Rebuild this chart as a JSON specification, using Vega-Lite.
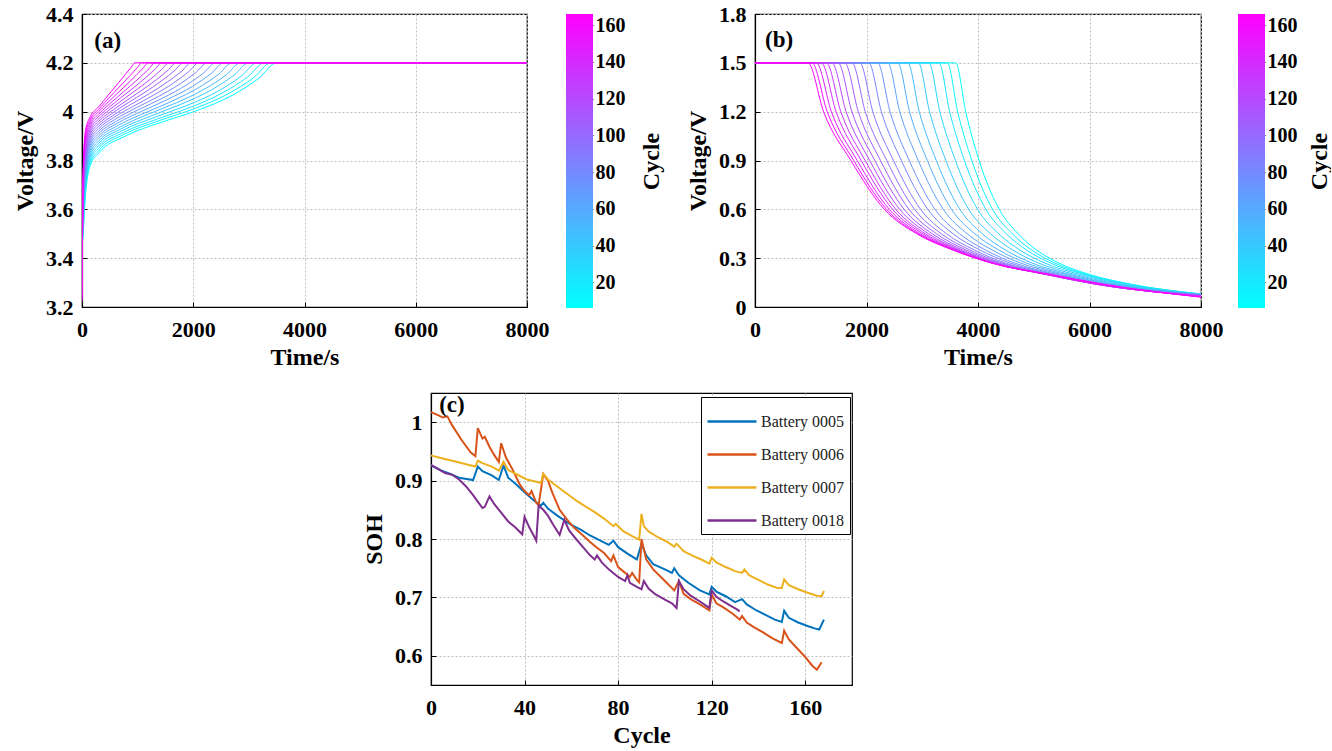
{
"$schema": "https://vega.github.io/schema/vega-lite/v6.json",
"background": "white",
"padding": {"left": 12, "top": 2, "right": 0, "bottom": 0},
"config": {
 "font": "Liberation Serif",
 "view": {"stroke": "black", "strokeWidth": 1.2},
 "axis": {"labelFont": "Liberation Serif", "labelFontSize": 22, "labelFontWeight": "bold", "labelColor": "black", "titleFont": "Liberation Serif", "titleFontSize": 24, "titleFontWeight": "bold", "titleColor": "black", "domainColor": "black", "domainWidth": 1.2, "tickColor": "black", "tickSize": -5, "grid": true, "gridColor": "#bdbdbd", "gridDash": [2, 2], "gridWidth": 1, "labelFlush": false, "labelOverlap": false},
 "axisX": {"titlePadding": 5, "labelPadding": 17},
 "axisY": {"titlePadding": 8, "labelPadding": 14}
},
"datasets": {
 "ca": [
{"c":6,"t":0,"v":3.45},{"c":6,"t":20,"v":3.5},{"c":6,"t":60,"v":3.65},{"c":6,"t":150,"v":3.78},{"c":6,"t":300,"v":3.83},{"c":6,"t":780,"v":3.9},{"c":6,"t":1420,"v":3.956},{"c":6,"t":2060,"v":4.004},{"c":6,"t":2700,"v":4.067},{"c":6,"t":3180,"v":4.137},{"c":6,"t":3500,"v":4.2},{"c":6,"t":8000,"v":4.2},
{"c":14,"t":0,"v":3.438},{"c":14,"t":20,"v":3.513},{"c":14,"t":60,"v":3.664},{"c":14,"t":150,"v":3.791},{"c":14,"t":300,"v":3.84},{"c":14,"t":765,"v":3.908},{"c":14,"t":1385,"v":3.963},{"c":14,"t":2005,"v":4.011},{"c":14,"t":2625,"v":4.073},{"c":14,"t":3090,"v":4.14},{"c":14,"t":3400,"v":4.2},{"c":14,"t":8000,"v":4.2},
{"c":23,"t":0,"v":3.426},{"c":23,"t":20,"v":3.526},{"c":23,"t":60,"v":3.678},{"c":23,"t":150,"v":3.801},{"c":23,"t":300,"v":3.85},{"c":23,"t":747,"v":3.915},{"c":23,"t":1343,"v":3.969},{"c":23,"t":1939,"v":4.017},{"c":23,"t":2535,"v":4.078},{"c":23,"t":2982,"v":4.143},{"c":23,"t":3280,"v":4.2},{"c":23,"t":8000,"v":4.2},
{"c":31,"t":0,"v":3.414},{"c":31,"t":20,"v":3.54},{"c":31,"t":60,"v":3.693},{"c":31,"t":150,"v":3.812},{"c":31,"t":300,"v":3.86},{"c":31,"t":728,"v":3.923},{"c":31,"t":1298,"v":3.976},{"c":31,"t":1868,"v":4.024},{"c":31,"t":2438,"v":4.083},{"c":31,"t":2865,"v":4.146},{"c":31,"t":3150,"v":4.2},{"c":31,"t":8000,"v":4.2},
{"c":40,"t":0,"v":3.401},{"c":40,"t":20,"v":3.553},{"c":40,"t":60,"v":3.707},{"c":40,"t":150,"v":3.822},{"c":40,"t":300,"v":3.87},{"c":40,"t":705,"v":3.93},{"c":40,"t":1245,"v":3.983},{"c":40,"t":1785,"v":4.031},{"c":40,"t":2325,"v":4.089},{"c":40,"t":2730,"v":4.149},{"c":40,"t":3000,"v":4.2},{"c":40,"t":8000,"v":4.2},
{"c":48,"t":0,"v":3.39},{"c":48,"t":20,"v":3.566},{"c":48,"t":60,"v":3.721},{"c":48,"t":150,"v":3.833},{"c":48,"t":300,"v":3.88},{"c":48,"t":683,"v":3.937},{"c":48,"t":1193,"v":3.99},{"c":48,"t":1703,"v":4.037},{"c":48,"t":2213,"v":4.094},{"c":48,"t":2595,"v":4.151},{"c":48,"t":2850,"v":4.2},{"c":48,"t":8000,"v":4.2},
{"c":57,"t":0,"v":3.377},{"c":57,"t":20,"v":3.579},{"c":57,"t":60,"v":3.735},{"c":57,"t":150,"v":3.843},{"c":57,"t":300,"v":3.89},{"c":57,"t":660,"v":3.945},{"c":57,"t":1140,"v":3.996},{"c":57,"t":1620,"v":4.043},{"c":57,"t":2100,"v":4.099},{"c":57,"t":2460,"v":4.154},{"c":57,"t":2700,"v":4.2},{"c":57,"t":8000,"v":4.2},
{"c":65,"t":0,"v":3.365},{"c":65,"t":20,"v":3.592},{"c":65,"t":60,"v":3.749},{"c":65,"t":150,"v":3.854},{"c":65,"t":300,"v":3.9},{"c":65,"t":638,"v":3.953},{"c":65,"t":1088,"v":4.003},{"c":65,"t":1538,"v":4.05},{"c":65,"t":1988,"v":4.104},{"c":65,"t":2325,"v":4.157},{"c":65,"t":2550,"v":4.2},{"c":65,"t":8000,"v":4.2},
{"c":73,"t":0,"v":3.353},{"c":73,"t":20,"v":3.605},{"c":73,"t":60,"v":3.764},{"c":73,"t":150,"v":3.864},{"c":73,"t":300,"v":3.91},{"c":73,"t":615,"v":3.96},{"c":73,"t":1035,"v":4.01},{"c":73,"t":1455,"v":4.056},{"c":73,"t":1875,"v":4.109},{"c":73,"t":2190,"v":4.159},{"c":73,"t":2400,"v":4.2},{"c":73,"t":8000,"v":4.2},
{"c":82,"t":0,"v":3.341},{"c":82,"t":20,"v":3.619},{"c":82,"t":60,"v":3.778},{"c":82,"t":150,"v":3.875},{"c":82,"t":300,"v":3.92},{"c":82,"t":593,"v":3.968},{"c":82,"t":983,"v":4.017},{"c":82,"t":1373,"v":4.062},{"c":82,"t":1763,"v":4.114},{"c":82,"t":2055,"v":4.162},{"c":82,"t":2250,"v":4.2},{"c":82,"t":8000,"v":4.2},
{"c":90,"t":0,"v":3.329},{"c":90,"t":20,"v":3.632},{"c":90,"t":60,"v":3.792},{"c":90,"t":150,"v":3.885},{"c":90,"t":300,"v":3.93},{"c":90,"t":570,"v":3.976},{"c":90,"t":930,"v":4.023},{"c":90,"t":1290,"v":4.068},{"c":90,"t":1650,"v":4.118},{"c":90,"t":1920,"v":4.164},{"c":90,"t":2100,"v":4.2},{"c":90,"t":8000,"v":4.2},
{"c":99,"t":0,"v":3.317},{"c":99,"t":20,"v":3.645},{"c":99,"t":60,"v":3.806},{"c":99,"t":150,"v":3.896},{"c":99,"t":300,"v":3.94},{"c":99,"t":549,"v":3.983},{"c":99,"t":881,"v":4.03},{"c":99,"t":1213,"v":4.074},{"c":99,"t":1545,"v":4.123},{"c":99,"t":1794,"v":4.166},{"c":99,"t":1960,"v":4.2},{"c":99,"t":8000,"v":4.2},
{"c":107,"t":0,"v":3.305},{"c":107,"t":20,"v":3.658},{"c":107,"t":60,"v":3.821},{"c":107,"t":150,"v":3.906},{"c":107,"t":300,"v":3.95},{"c":107,"t":528,"v":3.991},{"c":107,"t":832,"v":4.037},{"c":107,"t":1136,"v":4.08},{"c":107,"t":1440,"v":4.128},{"c":107,"t":1668,"v":4.169},{"c":107,"t":1820,"v":4.2},{"c":107,"t":8000,"v":4.2},
{"c":115,"t":0,"v":3.293},{"c":115,"t":20,"v":3.671},{"c":115,"t":60,"v":3.835},{"c":115,"t":150,"v":3.917},{"c":115,"t":300,"v":3.96},{"c":115,"t":509,"v":3.999},{"c":115,"t":787,"v":4.043},{"c":115,"t":1065,"v":4.086},{"c":115,"t":1343,"v":4.132},{"c":115,"t":1551,"v":4.171},{"c":115,"t":1690,"v":4.2},{"c":115,"t":8000,"v":4.2},
{"c":124,"t":0,"v":3.28},{"c":124,"t":20,"v":3.684},{"c":124,"t":60,"v":3.849},{"c":124,"t":150,"v":3.927},{"c":124,"t":300,"v":3.97},{"c":124,"t":489,"v":4.007},{"c":124,"t":741,"v":4.05},{"c":124,"t":993,"v":4.092},{"c":124,"t":1245,"v":4.136},{"c":124,"t":1434,"v":4.173},{"c":124,"t":1560,"v":4.2},{"c":124,"t":8000,"v":4.2},
{"c":132,"t":0,"v":3.269},{"c":132,"t":20,"v":3.697},{"c":132,"t":60,"v":3.863},{"c":132,"t":150,"v":3.938},{"c":132,"t":300,"v":3.98},{"c":132,"t":470,"v":4.015},{"c":132,"t":696,"v":4.057},{"c":132,"t":922,"v":4.097},{"c":132,"t":1148,"v":4.14},{"c":132,"t":1317,"v":4.175},{"c":132,"t":1430,"v":4.2},{"c":132,"t":8000,"v":4.2},
{"c":141,"t":0,"v":3.256},{"c":141,"t":20,"v":3.711},{"c":141,"t":60,"v":3.877},{"c":141,"t":150,"v":3.948},{"c":141,"t":300,"v":3.99},{"c":141,"t":452,"v":4.023},{"c":141,"t":654,"v":4.063},{"c":141,"t":856,"v":4.103},{"c":141,"t":1058,"v":4.144},{"c":141,"t":1209,"v":4.177},{"c":141,"t":1310,"v":4.2},{"c":141,"t":8000,"v":4.2},
{"c":149,"t":0,"v":3.244},{"c":149,"t":20,"v":3.724},{"c":149,"t":60,"v":3.892},{"c":149,"t":150,"v":3.959},{"c":149,"t":300,"v":4.0},{"c":149,"t":434,"v":4.031},{"c":149,"t":612,"v":4.07},{"c":149,"t":790,"v":4.108},{"c":149,"t":968,"v":4.148},{"c":149,"t":1101,"v":4.179},{"c":149,"t":1190,"v":4.2},{"c":149,"t":8000,"v":4.2},
{"c":157,"t":0,"v":3.232},{"c":157,"t":20,"v":3.737},{"c":157,"t":60,"v":3.906},{"c":157,"t":150,"v":3.969},{"c":157,"t":300,"v":4.01},{"c":157,"t":416,"v":4.039},{"c":157,"t":570,"v":4.077},{"c":157,"t":724,"v":4.114},{"c":157,"t":878,"v":4.151},{"c":157,"t":993,"v":4.18},{"c":157,"t":1070,"v":4.2},{"c":157,"t":8000,"v":4.2},
{"c":166,"t":0,"v":3.22},{"c":166,"t":20,"v":3.75},{"c":166,"t":60,"v":3.92},{"c":166,"t":150,"v":3.98},{"c":166,"t":300,"v":4.02},{"c":166,"t":398,"v":4.047},{"c":166,"t":528,"v":4.083},{"c":166,"t":658,"v":4.119},{"c":166,"t":788,"v":4.155},{"c":166,"t":885,"v":4.182},{"c":166,"t":950,"v":4.2},{"c":166,"t":8000,"v":4.2}
 ],
 "db": [
{"c":6,"t":0,"v":1.5},{"c":6,"t":3600,"v":1.5},{"c":6,"t":3780,"v":1.2},{"c":6,"t":4020,"v":0.9},{"c":6,"t":4380,"v":0.6},{"c":6,"t":4720,"v":0.45},{"c":6,"t":5050,"v":0.35},{"c":6,"t":5450,"v":0.27},{"c":6,"t":6000,"v":0.2},{"c":6,"t":6750,"v":0.14},{"c":6,"t":8000,"v":0.08},
{"c":14,"t":0,"v":1.5},{"c":14,"t":3450,"v":1.5},{"c":14,"t":3635,"v":1.2},{"c":14,"t":3889,"v":0.9},{"c":14,"t":4261,"v":0.6},{"c":14,"t":4614,"v":0.45},{"c":14,"t":4961,"v":0.35},{"c":14,"t":5377,"v":0.27},{"c":14,"t":5953,"v":0.2},{"c":14,"t":6714,"v":0.14},{"c":14,"t":8000,"v":0.08},
{"c":23,"t":0,"v":1.5},{"c":23,"t":3300,"v":1.5},{"c":23,"t":3491,"v":1.2},{"c":23,"t":3757,"v":0.9},{"c":23,"t":4142,"v":0.6},{"c":23,"t":4507,"v":0.45},{"c":23,"t":4871,"v":0.35},{"c":23,"t":5302,"v":0.27},{"c":23,"t":5905,"v":0.2},{"c":23,"t":6676,"v":0.14},{"c":23,"t":8000,"v":0.08},
{"c":31,"t":0,"v":1.5},{"c":31,"t":3120,"v":1.5},{"c":31,"t":3316,"v":1.2},{"c":31,"t":3595,"v":0.9},{"c":31,"t":3993,"v":0.6},{"c":31,"t":4371,"v":0.45},{"c":31,"t":4752,"v":0.35},{"c":31,"t":5199,"v":0.27},{"c":31,"t":5828,"v":0.2},{"c":31,"t":6610,"v":0.14},{"c":31,"t":8000,"v":0.078},
{"c":40,"t":0,"v":1.5},{"c":40,"t":2930,"v":1.5},{"c":40,"t":3131,"v":1.2},{"c":40,"t":3424,"v":0.9},{"c":40,"t":3834,"v":0.6},{"c":40,"t":4225,"v":0.45},{"c":40,"t":4623,"v":0.35},{"c":40,"t":5086,"v":0.27},{"c":40,"t":5741,"v":0.2},{"c":40,"t":6534,"v":0.14},{"c":40,"t":8000,"v":0.078},
{"c":48,"t":0,"v":1.5},{"c":48,"t":2740,"v":1.5},{"c":48,"t":2946,"v":1.2},{"c":48,"t":3252,"v":0.9},{"c":48,"t":3675,"v":0.6},{"c":48,"t":4078,"v":0.45},{"c":48,"t":4492,"v":0.35},{"c":48,"t":4971,"v":0.27},{"c":48,"t":5653,"v":0.2},{"c":48,"t":6455,"v":0.14},{"c":48,"t":8000,"v":0.077},
{"c":57,"t":0,"v":1.5},{"c":57,"t":2560,"v":1.5},{"c":57,"t":2772,"v":1.2},{"c":57,"t":3091,"v":0.9},{"c":57,"t":3526,"v":0.6},{"c":57,"t":3942,"v":0.45},{"c":57,"t":4373,"v":0.35},{"c":57,"t":4868,"v":0.27},{"c":57,"t":5576,"v":0.2},{"c":57,"t":6389,"v":0.14},{"c":57,"t":8000,"v":0.076},
{"c":65,"t":0,"v":1.5},{"c":65,"t":2380,"v":1.5},{"c":65,"t":2597,"v":1.2},{"c":65,"t":2929,"v":0.9},{"c":65,"t":3377,"v":0.6},{"c":65,"t":3805,"v":0.45},{"c":65,"t":4253,"v":0.35},{"c":65,"t":4764,"v":0.27},{"c":65,"t":5498,"v":0.2},{"c":65,"t":6321,"v":0.14},{"c":65,"t":8000,"v":0.075},
{"c":73,"t":0,"v":1.5},{"c":73,"t":2200,"v":1.5},{"c":73,"t":2422,"v":1.2},{"c":73,"t":2767,"v":0.9},{"c":73,"t":3228,"v":0.6},{"c":73,"t":3669,"v":0.45},{"c":73,"t":4134,"v":0.35},{"c":73,"t":4660,"v":0.27},{"c":73,"t":5421,"v":0.2},{"c":73,"t":6255,"v":0.14},{"c":73,"t":8000,"v":0.074},
{"c":82,"t":0,"v":1.5},{"c":82,"t":2040,"v":1.5},{"c":82,"t":2267,"v":1.2},{"c":82,"t":2626,"v":0.9},{"c":82,"t":3100,"v":0.6},{"c":82,"t":3553,"v":0.45},{"c":82,"t":4035,"v":0.35},{"c":82,"t":4577,"v":0.27},{"c":82,"t":5364,"v":0.2},{"c":82,"t":6209,"v":0.14},{"c":82,"t":8000,"v":0.073},
{"c":90,"t":0,"v":1.5},{"c":90,"t":1880,"v":1.5},{"c":90,"t":2113,"v":1.2},{"c":90,"t":2484,"v":0.9},{"c":90,"t":2970,"v":0.6},{"c":90,"t":3437,"v":0.45},{"c":90,"t":3935,"v":0.35},{"c":90,"t":4493,"v":0.27},{"c":90,"t":5306,"v":0.2},{"c":90,"t":6161,"v":0.14},{"c":90,"t":8000,"v":0.072},
{"c":99,"t":0,"v":1.5},{"c":99,"t":1740,"v":1.5},{"c":99,"t":1978,"v":1.2},{"c":99,"t":2363,"v":0.9},{"c":99,"t":2862,"v":0.6},{"c":99,"t":3341,"v":0.45},{"c":99,"t":3856,"v":0.35},{"c":99,"t":4430,"v":0.27},{"c":99,"t":5269,"v":0.2},{"c":99,"t":6135,"v":0.14},{"c":99,"t":8000,"v":0.071},
{"c":107,"t":0,"v":1.5},{"c":107,"t":1610,"v":1.5},{"c":107,"t":1853,"v":1.2},{"c":107,"t":2251,"v":0.9},{"c":107,"t":2763,"v":0.6},{"c":107,"t":3255,"v":0.45},{"c":107,"t":3787,"v":0.35},{"c":107,"t":4376,"v":0.27},{"c":107,"t":5242,"v":0.2},{"c":107,"t":6119,"v":0.14},{"c":107,"t":8000,"v":0.07},
{"c":115,"t":0,"v":1.5},{"c":115,"t":1490,"v":1.5},{"c":115,"t":1738,"v":1.2},{"c":115,"t":2149,"v":0.9},{"c":115,"t":2674,"v":0.6},{"c":115,"t":3178,"v":0.45},{"c":115,"t":3727,"v":0.35},{"c":115,"t":4332,"v":0.27},{"c":115,"t":5224,"v":0.2},{"c":115,"t":6111,"v":0.14},{"c":115,"t":8000,"v":0.068},
{"c":124,"t":0,"v":1.5},{"c":124,"t":1380,"v":1.5},{"c":124,"t":1634,"v":1.2},{"c":124,"t":2058,"v":0.9},{"c":124,"t":2595,"v":0.6},{"c":124,"t":3112,"v":0.45},{"c":124,"t":3678,"v":0.35},{"c":124,"t":4299,"v":0.27},{"c":124,"t":5217,"v":0.2},{"c":124,"t":6115,"v":0.14},{"c":124,"t":8000,"v":0.067},
{"c":132,"t":0,"v":1.5},{"c":132,"t":1280,"v":1.5},{"c":132,"t":1539,"v":1.2},{"c":132,"t":1976,"v":0.9},{"c":132,"t":2525,"v":0.6},{"c":132,"t":3055,"v":0.45},{"c":132,"t":3637,"v":0.35},{"c":132,"t":4274,"v":0.27},{"c":132,"t":5219,"v":0.2},{"c":132,"t":6126,"v":0.14},{"c":132,"t":8000,"v":0.066},
{"c":141,"t":0,"v":1.5},{"c":141,"t":1190,"v":1.5},{"c":141,"t":1454,"v":1.2},{"c":141,"t":1905,"v":0.9},{"c":141,"t":2467,"v":0.6},{"c":141,"t":3009,"v":0.45},{"c":141,"t":3608,"v":0.35},{"c":141,"t":4261,"v":0.27},{"c":141,"t":5232,"v":0.2},{"c":141,"t":6150,"v":0.14},{"c":141,"t":8000,"v":0.064},
{"c":149,"t":0,"v":1.5},{"c":149,"t":1100,"v":1.5},{"c":149,"t":1370,"v":1.2},{"c":149,"t":1833,"v":0.9},{"c":149,"t":2408,"v":0.6},{"c":149,"t":2963,"v":0.45},{"c":149,"t":3579,"v":0.35},{"c":149,"t":4248,"v":0.27},{"c":149,"t":5245,"v":0.2},{"c":149,"t":6174,"v":0.14},{"c":149,"t":8000,"v":0.063},
{"c":157,"t":0,"v":1.5},{"c":157,"t":1020,"v":1.5},{"c":157,"t":1295,"v":1.2},{"c":157,"t":1771,"v":0.9},{"c":157,"t":2359,"v":0.6},{"c":157,"t":2926,"v":0.45},{"c":157,"t":3559,"v":0.35},{"c":157,"t":4243,"v":0.27},{"c":157,"t":5267,"v":0.2},{"c":157,"t":6206,"v":0.14},{"c":157,"t":8000,"v":0.062},
{"c":166,"t":0,"v":1.5},{"c":166,"t":950,"v":1.5},{"c":166,"t":1230,"v":1.2},{"c":166,"t":1720,"v":0.9},{"c":166,"t":2320,"v":0.6},{"c":166,"t":2900,"v":0.45},{"c":166,"t":3550,"v":0.35},{"c":166,"t":4250,"v":0.27},{"c":166,"t":5300,"v":0.2},{"c":166,"t":6250,"v":0.14},{"c":166,"t":8000,"v":0.06}
 ],
 "soh": [
{"b":"0005","c":0,"s":0.926},{"b":"0005","c":4,"s":0.918},{"b":"0005","c":8,"s":0.912},{"b":"0005","c":12,"s":0.905},{"b":"0005","c":18,"s":0.901},{"b":"0005","c":20,"s":0.924},{"b":"0005","c":22,"s":0.916},{"b":"0005","c":26,"s":0.909},{"b":"0005","c":29,"s":0.901},{"b":"0005","c":31,"s":0.926},{"b":"0005","c":33,"s":0.905},{"b":"0005","c":36,"s":0.895},{"b":"0005","c":40,"s":0.88},{"b":"0005","c":44,"s":0.866},{"b":"0005","c":47,"s":0.857},{"b":"0005","c":48,"s":0.862},{"b":"0005","c":50,"s":0.852},{"b":"0005","c":54,"s":0.84},{"b":"0005","c":60,"s":0.824},{"b":"0005","c":64,"s":0.816},{"b":"0005","c":68,"s":0.806},{"b":"0005","c":72,"s":0.798},{"b":"0005","c":76,"s":0.79},{"b":"0005","c":78,"s":0.797},{"b":"0005","c":80,"s":0.786},{"b":"0005","c":84,"s":0.775},{"b":"0005","c":88,"s":0.765},{"b":"0005","c":90,"s":0.792},{"b":"0005","c":92,"s":0.772},{"b":"0005","c":95,"s":0.757},{"b":"0005","c":100,"s":0.748},{"b":"0005","c":103,"s":0.742},{"b":"0005","c":104,"s":0.75},{"b":"0005","c":106,"s":0.738},{"b":"0005","c":110,"s":0.725},{"b":"0005","c":115,"s":0.712},{"b":"0005","c":119,"s":0.705},{"b":"0005","c":120,"s":0.718},{"b":"0005","c":122,"s":0.71},{"b":"0005","c":126,"s":0.702},{"b":"0005","c":130,"s":0.692},{"b":"0005","c":133,"s":0.697},{"b":"0005","c":135,"s":0.688},{"b":"0005","c":139,"s":0.678},{"b":"0005","c":143,"s":0.67},{"b":"0005","c":147,"s":0.662},{"b":"0005","c":150,"s":0.658},{"b":"0005","c":151,"s":0.677},{"b":"0005","c":153,"s":0.665},{"b":"0005","c":157,"s":0.657},{"b":"0005","c":161,"s":0.651},{"b":"0005","c":164,"s":0.647},{"b":"0005","c":166,"s":0.645},{"b":"0005","c":168,"s":0.662},
{"b":"0006","c":0,"s":1.017},{"b":"0006","c":3,"s":1.012},{"b":"0006","c":5,"s":1.008},{"b":"0006","c":7,"s":1.01},{"b":"0006","c":9,"s":0.995},{"b":"0006","c":13,"s":0.97},{"b":"0006","c":17,"s":0.948},{"b":"0006","c":19,"s":0.942},{"b":"0006","c":20,"s":0.99},{"b":"0006","c":22,"s":0.972},{"b":"0006","c":23,"s":0.975},{"b":"0006","c":25,"s":0.958},{"b":"0006","c":27,"s":0.944},{"b":"0006","c":29,"s":0.932},{"b":"0006","c":30,"s":0.964},{"b":"0006","c":32,"s":0.94},{"b":"0006","c":35,"s":0.918},{"b":"0006","c":38,"s":0.893},{"b":"0006","c":40,"s":0.882},{"b":"0006","c":42,"s":0.875},{"b":"0006","c":43,"s":0.882},{"b":"0006","c":45,"s":0.862},{"b":"0006","c":46,"s":0.858},{"b":"0006","c":48,"s":0.911},{"b":"0006","c":50,"s":0.9},{"b":"0006","c":52,"s":0.878},{"b":"0006","c":55,"s":0.85},{"b":"0006","c":58,"s":0.834},{"b":"0006","c":61,"s":0.82},{"b":"0006","c":65,"s":0.806},{"b":"0006","c":68,"s":0.795},{"b":"0006","c":71,"s":0.785},{"b":"0006","c":74,"s":0.776},{"b":"0006","c":77,"s":0.762},{"b":"0006","c":78,"s":0.772},{"b":"0006","c":80,"s":0.752},{"b":"0006","c":83,"s":0.742},{"b":"0006","c":85,"s":0.735},{"b":"0006","c":86,"s":0.742},{"b":"0006","c":88,"s":0.73},{"b":"0006","c":89,"s":0.726},{"b":"0006","c":90,"s":0.8},{"b":"0006","c":92,"s":0.765},{"b":"0006","c":95,"s":0.748},{"b":"0006","c":100,"s":0.728},{"b":"0006","c":104,"s":0.712},{"b":"0006","c":106,"s":0.728},{"b":"0006","c":108,"s":0.706},{"b":"0006","c":111,"s":0.697},{"b":"0006","c":115,"s":0.688},{"b":"0006","c":119,"s":0.678},{"b":"0006","c":120,"s":0.705},{"b":"0006","c":122,"s":0.69},{"b":"0006","c":125,"s":0.683},{"b":"0006","c":129,"s":0.672},{"b":"0006","c":132,"s":0.662},{"b":"0006","c":133,"s":0.668},{"b":"0006","c":135,"s":0.657},{"b":"0006","c":138,"s":0.649},{"b":"0006","c":142,"s":0.64},{"b":"0006","c":146,"s":0.63},{"b":"0006","c":150,"s":0.622},{"b":"0006","c":151,"s":0.643},{"b":"0006","c":153,"s":0.628},{"b":"0006","c":156,"s":0.615},{"b":"0006","c":160,"s":0.598},{"b":"0006","c":163,"s":0.583},{"b":"0006","c":165,"s":0.576},{"b":"0006","c":167,"s":0.589},
{"b":"0007","c":0,"s":0.943},{"b":"0007","c":5,"s":0.938},{"b":"0007","c":10,"s":0.933},{"b":"0007","c":15,"s":0.928},{"b":"0007","c":19,"s":0.924},{"b":"0007","c":20,"s":0.934},{"b":"0007","c":22,"s":0.93},{"b":"0007","c":26,"s":0.924},{"b":"0007","c":29,"s":0.917},{"b":"0007","c":31,"s":0.932},{"b":"0007","c":33,"s":0.918},{"b":"0007","c":37,"s":0.91},{"b":"0007","c":41,"s":0.902},{"b":"0007","c":45,"s":0.898},{"b":"0007","c":47,"s":0.896},{"b":"0007","c":48,"s":0.912},{"b":"0007","c":50,"s":0.902},{"b":"0007","c":54,"s":0.89},{"b":"0007","c":58,"s":0.878},{"b":"0007","c":62,"s":0.866},{"b":"0007","c":66,"s":0.856},{"b":"0007","c":70,"s":0.846},{"b":"0007","c":74,"s":0.835},{"b":"0007","c":78,"s":0.822},{"b":"0007","c":79,"s":0.826},{"b":"0007","c":82,"s":0.814},{"b":"0007","c":86,"s":0.805},{"b":"0007","c":89,"s":0.799},{"b":"0007","c":90,"s":0.843},{"b":"0007","c":91,"s":0.822},{"b":"0007","c":93,"s":0.813},{"b":"0007","c":97,"s":0.803},{"b":"0007","c":101,"s":0.795},{"b":"0007","c":104,"s":0.787},{"b":"0007","c":105,"s":0.792},{"b":"0007","c":108,"s":0.779},{"b":"0007","c":112,"s":0.771},{"b":"0007","c":116,"s":0.764},{"b":"0007","c":119,"s":0.758},{"b":"0007","c":120,"s":0.768},{"b":"0007","c":122,"s":0.76},{"b":"0007","c":126,"s":0.752},{"b":"0007","c":130,"s":0.745},{"b":"0007","c":133,"s":0.742},{"b":"0007","c":134,"s":0.748},{"b":"0007","c":136,"s":0.738},{"b":"0007","c":140,"s":0.73},{"b":"0007","c":144,"s":0.722},{"b":"0007","c":148,"s":0.716},{"b":"0007","c":150,"s":0.716},{"b":"0007","c":151,"s":0.731},{"b":"0007","c":153,"s":0.721},{"b":"0007","c":157,"s":0.714},{"b":"0007","c":161,"s":0.708},{"b":"0007","c":165,"s":0.703},{"b":"0007","c":167,"s":0.702},{"b":"0007","c":168,"s":0.711},
{"b":"0018","c":0,"s":0.927},{"b":"0018","c":3,"s":0.92},{"b":"0018","c":6,"s":0.913},{"b":"0018","c":9,"s":0.91},{"b":"0018","c":12,"s":0.902},{"b":"0018","c":15,"s":0.89},{"b":"0018","c":18,"s":0.875},{"b":"0018","c":20,"s":0.864},{"b":"0018","c":22,"s":0.853},{"b":"0018","c":23,"s":0.855},{"b":"0018","c":25,"s":0.873},{"b":"0018","c":27,"s":0.86},{"b":"0018","c":30,"s":0.845},{"b":"0018","c":33,"s":0.83},{"b":"0018","c":36,"s":0.82},{"b":"0018","c":39,"s":0.808},{"b":"0018","c":40,"s":0.838},{"b":"0018","c":42,"s":0.82},{"b":"0018","c":44,"s":0.805},{"b":"0018","c":45,"s":0.797},{"b":"0018","c":46,"s":0.857},{"b":"0018","c":48,"s":0.85},{"b":"0018","c":50,"s":0.84},{"b":"0018","c":52,"s":0.826},{"b":"0018","c":55,"s":0.807},{"b":"0018","c":57,"s":0.833},{"b":"0018","c":59,"s":0.815},{"b":"0018","c":62,"s":0.8},{"b":"0018","c":65,"s":0.786},{"b":"0018","c":68,"s":0.772},{"b":"0018","c":70,"s":0.765},{"b":"0018","c":71,"s":0.772},{"b":"0018","c":73,"s":0.76},{"b":"0018","c":76,"s":0.748},{"b":"0018","c":80,"s":0.735},{"b":"0018","c":83,"s":0.728},{"b":"0018","c":84,"s":0.738},{"b":"0018","c":85,"s":0.725},{"b":"0018","c":88,"s":0.718},{"b":"0018","c":90,"s":0.714},{"b":"0018","c":91,"s":0.728},{"b":"0018","c":93,"s":0.715},{"b":"0018","c":96,"s":0.705},{"b":"0018","c":100,"s":0.696},{"b":"0018","c":103,"s":0.69},{"b":"0018","c":105,"s":0.682},{"b":"0018","c":106,"s":0.728},{"b":"0018","c":108,"s":0.714},{"b":"0018","c":111,"s":0.703},{"b":"0018","c":115,"s":0.693},{"b":"0018","c":119,"s":0.682},{"b":"0018","c":120,"s":0.712},{"b":"0018","c":122,"s":0.701},{"b":"0018","c":125,"s":0.693},{"b":"0018","c":128,"s":0.686},{"b":"0018","c":131,"s":0.679},{"b":"0018","c":132,"s":0.676}
 ]
},
"spacing": 22,
"resolve": {"scale": {"color": "independent"}, "legend": {"color": "independent"}},
"vconcat": [
 {"spacing": 22, "align": "none", "hconcat": [
  {"spacing": 16, "align": "none", "hconcat": [
   {"width": 445, "height": 293,
    "layer": [
     {"data": {"name": "ca"},
      "mark": {"type": "line", "strokeWidth": 1, "interpolate": "monotone", "clip": true},
      "encoding": {
       "x": {"field": "t", "type": "quantitative", "scale": {"domain": [0, 8000]}, "axis": {"values": [0, 2000, 4000, 6000, 8000], "format": "d", "title": "Time/s"}},
       "y": {"field": "v", "type": "quantitative", "scale": {"domain": [3.2, 4.4]}, "axis": {"values": [3.2, 3.4, 3.6, 3.8, 4, 4.2, 4.4], "format": "~g", "title": "Voltage/V"}},
       "color": {"field": "c", "type": "quantitative", "scale": {"domain": [6, 166], "range": ["#00ffff", "#ff00ff"], "interpolate": "rgb"}, "legend": null},
       "detail": {"field": "c", "type": "nominal"}
      }},
     {"data": {"values": [{"t": 220, "v": 4.29, "s": "(a)"}]},
      "mark": {"type": "text", "align": "left", "baseline": "middle", "font": "Liberation Serif", "fontWeight": "bold", "fontSize": 23, "color": "black"},
      "encoding": {"x": {"field": "t", "type": "quantitative"}, "y": {"field": "v", "type": "quantitative"}, "text": {"field": "s"}}}
    ]},
   {"width": 27, "height": 294, "view": {"stroke": null},
    "data": {"values": [{"lo": 6, "hi": 166}]},
    "mark": {"type": "rect", "color": {"gradient": "linear", "x1": 0, "y1": 1, "x2": 0, "y2": 0, "stops": [{"offset": 0, "color": "#00ffff"}, {"offset": 1, "color": "#ff00ff"}]}},
    "encoding": {
     "y": {"field": "lo", "type": "quantitative", "scale": {"domain": [6, 166]}, "axis": {"orient": "right", "values": [20, 40, 60, 80, 100, 120, 140, 160], "title": "Cycle", "titleAngle": -90, "titleBaseline": "top", "titlePadding": 14, "grid": false, "domain": false, "tickSize": -4, "labelPadding": 6, "labelFontSize": 20}},
     "y2": {"field": "hi"}
    }}
  ]},
  {"spacing": 14, "align": "none", "hconcat": [
   {"width": 446, "height": 293,
    "layer": [
     {"data": {"name": "db"},
      "mark": {"type": "line", "strokeWidth": 1, "interpolate": "monotone", "clip": true},
      "encoding": {
       "x": {"field": "t", "type": "quantitative", "scale": {"domain": [0, 8000]}, "axis": {"values": [0, 2000, 4000, 6000, 8000], "format": "d", "title": "Time/s"}},
       "y": {"field": "v", "type": "quantitative", "scale": {"domain": [0, 1.8]}, "axis": {"values": [0, 0.3, 0.6, 0.9, 1.2, 1.5, 1.8], "format": "~g", "title": "Voltage/V"}},
       "color": {"field": "c", "type": "quantitative", "scale": {"domain": [6, 166], "range": ["#00ffff", "#ff00ff"], "interpolate": "rgb"}, "legend": null},
       "detail": {"field": "c", "type": "nominal"}
      }},
     {"data": {"values": [{"t": 180, "v": 1.64, "s": "(b)"}]},
      "mark": {"type": "text", "align": "left", "baseline": "middle", "font": "Liberation Serif", "fontWeight": "bold", "fontSize": 23, "color": "black"},
      "encoding": {"x": {"field": "t", "type": "quantitative"}, "y": {"field": "v", "type": "quantitative"}, "text": {"field": "s"}}}
    ]},
   {"width": 27, "height": 294, "view": {"stroke": null},
    "data": {"values": [{"lo": 6, "hi": 166}]},
    "mark": {"type": "rect", "color": {"gradient": "linear", "x1": 0, "y1": 1, "x2": 0, "y2": 0, "stops": [{"offset": 0, "color": "#00ffff"}, {"offset": 1, "color": "#ff00ff"}]}},
    "encoding": {
     "y": {"field": "lo", "type": "quantitative", "scale": {"domain": [6, 166]}, "axis": {"orient": "right", "values": [20, 40, 60, 80, 100, 120, 140, 160], "title": "Cycle", "titleAngle": -90, "titleBaseline": "top", "titlePadding": 10, "grid": false, "domain": false, "tickSize": -4, "labelPadding": 6, "labelFontSize": 20}},
     "y2": {"field": "hi"}
    }}
  ]}
 ]},
 {"spacing": 0, "align": "none", "resolve": {"scale": {"color": "independent"}, "legend": {"color": "independent"}}, "hconcat": [
  {"width": 279, "height": 10, "view": {"stroke": null}, "data": {"values": []}, "mark": {"type": "point", "opacity": 0}},
  {"width": 421, "height": 292,
   "layer": [
    {"data": {"name": "soh"},
     "mark": {"type": "line", "strokeWidth": 2, "clip": true},
     "encoding": {
      "x": {"field": "c", "type": "quantitative", "scale": {"domain": [0, 168]}, "axis": {"values": [0, 40, 80, 120, 160], "format": "d", "title": "Cycle"}},
      "y": {"field": "s", "type": "quantitative", "scale": {"domain": [0.55, 1.05]}, "axis": {"values": [0.6, 0.7, 0.8, 0.9, 1], "format": "~g", "title": "SOH"}},
      "color": {"field": "b", "type": "nominal", "scale": {"domain": ["0005", "0006", "0007", "0018"], "range": ["#0072BD", "#D95319", "#EDB120", "#7E2F8E"]},
        "legend": {"title": null, "orient": "none", "legendX": 270, "legendY": 4, "fillColor": "white", "strokeColor": "black", "padding": 5, "symbolType": "M-1,0H1.72", "symbolSize": 1296, "symbolStrokeWidth": 2.5, "labelFont": "Liberation Serif", "labelFontSize": 16, "labelFontWeight": "normal", "labelColor": "#222222", "labelOffset": 16, "rowPadding": 5, "labelExpr": "'Battery ' + datum.label"}}
     }},
    {"data": {"values": [{"c": 3.5, "s": 1.03, "t": "(c)"}]},
     "mark": {"type": "text", "align": "left", "baseline": "middle", "font": "Liberation Serif", "fontWeight": "bold", "fontSize": 23, "color": "black"},
     "encoding": {"x": {"field": "c", "type": "quantitative"}, "y": {"field": "s", "type": "quantitative"}, "text": {"field": "t"}}}
   ]}
 ]}
]
}
